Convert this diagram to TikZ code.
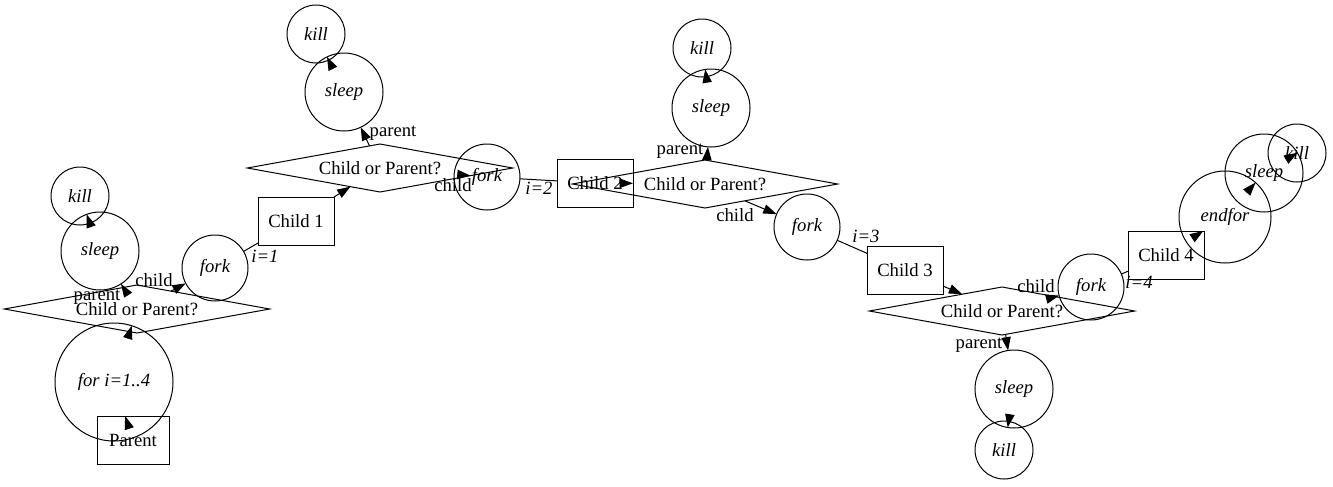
\documentclass[tikz,border=0pt]{standalone}
\usepackage{fontspec}
\setmainfont{Liberation Serif}
\usetikzlibrary{shapes.geometric,arrows.meta,calc}
\newcommand\tipedge[3]{%
  \path (#1) -- (#2.center) coordinate[pos=0] (#3);
  \draw[arr] ($(#3)!10pt!(#1.center)$) -- (#3);}
\begin{document}
\begin{tikzpicture}[x=0.75pt,y=-0.75pt,line width=0.75pt,
  every node/.style={font=\fontsize{14}{16}\selectfont,outer sep=0pt},
  arr/.style={-{Triangle[length=10pt,width=7pt]}},
  circ/.style={draw,circle,inner sep=0pt,font=\fontsize{14}{16}\selectfont\itshape},
  killn/.style={circ,minimum size=43.5pt},
  sleepn/.style={circ,minimum size=58.5pt},
  forkn/.style={circ,minimum size=49.5pt},
  box/.style={draw,rectangle,minimum width=57pt,minimum height=36pt,inner sep=0pt},
  dia/.style={draw,diamond,aspect=5.5,minimum width=199pt,minimum height=36pt,inner sep=0pt},
  lab/.style={inner sep=0pt},
  ilab/.style={inner sep=0pt,font=\fontsize{14}{16}\selectfont\itshape}]
\useasboundingbox (0,0) rectangle (1333,486);

% nodes
\node[box,minimum width=54pt] (parent) at (133,440) {Parent};
\node[circ,minimum size=88.5pt] (forloop) at (114,382) {for i=1..4};
\node[dia] (d1) at (137,309) {Child or Parent?};
\node[sleepn] (sleep1) at (100,251) {sleep};
\node[killn] (kill1) at (80,196) {kill};
\node[forkn] (fork1) at (215,268) {fork};
\node[box] (child1) at (296,221) {Child 1};
\node[dia] (d2) at (380,168) {Child or Parent?};
\node[sleepn] (sleep2) at (344,92) {sleep};
\node[killn] (kill2) at (316,34) {kill};
\node[forkn] (fork2) at (487,177) {fork};
\node[box] (child2) at (595,183) {Child 2};
\node[dia] (d3) at (705,184) {Child or Parent?};
\node[sleepn] (sleep3) at (711,108) {sleep};
\node[killn] (kill3) at (702,48) {kill};
\node[forkn] (fork3) at (807,227) {fork};
\node[box] (child3) at (905,270) {Child 3};
\node[dia] (d4) at (1002,311) {Child or Parent?};
\node[forkn] (fork4) at (1091,287) {fork};
\node[box] (child4) at (1166,255) {Child 4};
\node[sleepn] (sleep4) at (1014,389) {sleep};
\node[killn] (kill4) at (1004,450) {kill};
\node[circ,minimum size=69pt] (endfor) at (1225,217) {endfor};
\node[sleepn] (sleep5) at (1264,173) {sleep};
\node[killn] (kill5) at (1297,153) {kill};

% connectors with a visible line
\draw[arr] (d1) -- (sleep1);
\draw[arr] (d1) -- (fork1);
\draw (fork1) -- (child1);
\draw[arr] (child1) -- (d2);
\draw[arr] (d2) -- (sleep2);
\draw (fork2) -- (child2);
\draw[arr] (d3) -- (sleep3);
\draw[arr] (d3) -- (fork3);
\draw (fork3) -- (child3);
\draw[arr] (child3) -- (d4);
\draw[arr] (d4) -- (fork4);
\draw (fork4) -- (child4);
\draw[arr] (d4) -- (sleep4);

% connectors between overlapping nodes: only the head shows
\tipedge{parent}{forloop}{tA}
\tipedge{forloop}{d1}{tB}
\tipedge{sleep1}{kill1}{tE}
\tipedge{sleep2}{kill2}{tI}
\tipedge{d2}{fork2}{tJ}
\tipedge{child2}{d3}{tL}
\tipedge{sleep3}{kill3}{tN}
\tipedge{child4}{endfor}{tT}
\tipedge{endfor}{sleep5}{tU}
\tipedge{sleep5}{kill5}{tV}
\tipedge{sleep4}{kill4}{tX}

% edge labels
\node[lab] (lp1) at (97,297) {parent};
\node[lab] (lc1) at (154,280) {child};
\node[ilab] (li1) at (265,256) {i=1};
\node[lab] (lp2) at (393,133) {parent};
\node[lab] (lc2) at (453,185) {child};
\node[ilab] (li2) at (539,188) {i=2};
\node[lab] (lp3) at (680,151) {parent};
\node[lab] (lc3) at (735,215) {child};
\node[ilab] (li3) at (866,236) {i=3};
\node[lab] (lc4) at (1036,286) {child};
\node[ilab] (li4) at (1139,282) {i=4};
\node[lab] (lp4) at (979,345) {parent};
\end{tikzpicture}
\end{document}
